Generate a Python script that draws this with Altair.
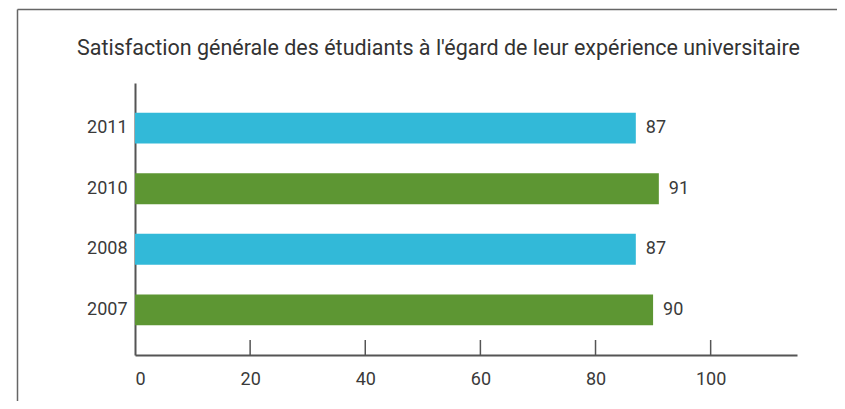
import altair as alt
import pandas as pd

years = ["2011", "2010", "2008", "2007"]
values = [87, 91, 87, 90]
colors = ["#32b9d8", "#5d9633", "#32b9d8", "#5d9633"]
tick_values = [20, 40, 60, 80, 100]
title_text = "Satisfaction générale des étudiants à l'égard de leur expérience universitaire"

FONT = "Roboto, Liberation Sans, sans-serif"
W, H = 662, 272

df = pd.DataFrame({"year": years, "value": values, "color": colors})
ticks_df = pd.DataFrame({"v": tick_values})

xscale = alt.Scale(domain=[0, 115], nice=False, zero=True)
yscale = alt.Scale(domain=years, paddingInner=0.49, paddingOuter=0.49)

bars = alt.Chart(df).mark_bar().encode(
    x=alt.X("value:Q", scale=xscale,
            axis=alt.Axis(values=[0] + tick_values, ticks=False, grid=False, title=None,
                          domainColor="#555555", domainWidth=2, labelFont=FONT,
                          labelFontSize=18, labelColor="#3a3a3a", labelPadding=15)),
    y=alt.Y("year:N", scale=yscale, sort=years,
            axis=alt.Axis(ticks=False, grid=False, title=None, domainColor="#555555",
                          domainWidth=2, labelFont=FONT, labelFontSize=18,
                          labelColor="#3a3a3a", labelPadding=8)),
    color=alt.Color("color:N", scale=None),
)

labels = alt.Chart(df).mark_text(align="left", baseline="middle", dx=10, font=FONT,
                                 fontSize=18, color="#3a3a3a").encode(
    x=alt.X("value:Q", scale=xscale),
    y=alt.Y("year:N", scale=yscale, sort=years),
    text=alt.Text("value:Q"),
)

tick_marks = alt.Chart(ticks_df).mark_rule(color="#555555", strokeWidth=1.5).encode(
    x=alt.X("v:Q", scale=xscale),
    y=alt.value(H - 15),
    y2=alt.value(H),
)

frame_left = alt.Chart(ticks_df.head(1)).mark_rule(color="#666666", strokeWidth=1.5, clip=False).encode(
    x=alt.value(-117.5), y=alt.value(-73.5), y2=alt.value(H + 80)
)
frame_top = alt.Chart(ticks_df.head(1)).mark_rule(color="#666666", strokeWidth=1.5, clip=False).encode(
    y=alt.value(-73.5), x=alt.value(-117.5), x2=alt.value(W + 80)
)

chart = alt.layer(bars, labels, tick_marks, frame_left, frame_top).properties(
    width=W, height=H,
    autosize=alt.AutoSizeParams(type="none"),
    padding={"left": 127, "top": 75, "right": 40, "bottom": 46},
    title=alt.TitleParams(title_text, anchor="start", frame="group", dx=-58, dy=68,
                          offset=0, baseline="alphabetic",
                          font=FONT, fontSize=21.5, fontWeight="normal", color="#333333"),
).configure_view(stroke=None)

chart.save("out.html", embed_options={"renderer": "svg", "actions": False})
